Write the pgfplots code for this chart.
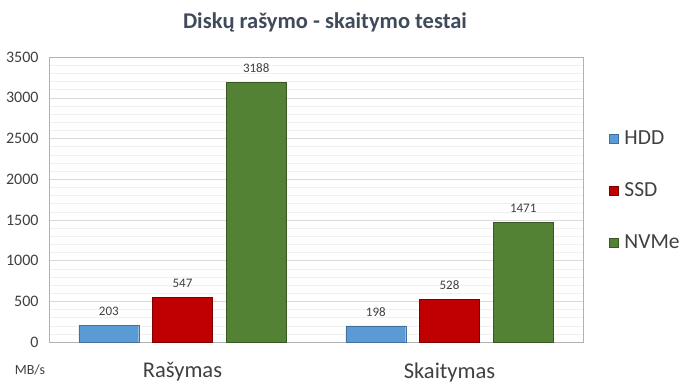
\documentclass[border=0pt]{standalone}
\usepackage{pgfplots}
\pgfplotsset{compat=1.18}
\usepackage{fontspec}
\setmainfont{Carlito}
\definecolor{hdd}{HTML}{5B9BD5}
\definecolor{hddb}{HTML}{41719C}
\definecolor{ssd}{HTML}{C00000}
\definecolor{ssdb}{HTML}{7F0000}
\definecolor{nvme}{HTML}{548235}
\definecolor{nvmeb}{HTML}{385723}
\definecolor{txt}{HTML}{404040}
\definecolor{ttl}{HTML}{3F4A5A}
\begin{document}
\begin{tikzpicture}[x=1pt,y=1pt]
\path (0,0) rectangle (700,385);
\node[font=\bfseries\fontsize{22.5}{24}\selectfont, text=ttl] at (325,363) {Diskų rašymo - skaitymo testai};
\node[font=\fontsize{14}{16}\selectfont, text=txt] at (30,15) {MB/s};
\begin{axis}[
  at={(49pt,43pt)}, anchor=south west,
  scale only axis, width=534pt, height=285pt,
  xmin=-0.5, xmax=1.5, ymin=0, ymax=3500,
  xtick={0,1}, xticklabels={Rašymas,Skaitymas},
  ytick={0,500,...,3500},
  minor ytick={100,200,...,3400},
  ymajorgrids, yminorgrids,
  major grid style={draw=black!15},
  minor grid style={draw=black!6},
  axis line style={draw=black!30},
  major tick length=0pt, minor tick length=0pt,
  xticklabel style={font=\fontsize{22.5}{24}\selectfont, text=txt, yshift=-17pt},
  yticklabel style={font=\fontsize{16}{18}\selectfont, text=txt, xshift=-7pt},
  /pgf/number format/assume math mode=true,
  /pgf/number format/1000 sep={},
  yticklabel={\pgfmathprintnumber[fixed,1000 sep={}]{\tick}},
  ybar, bar width=0.224,
  nodes near coords,
  every node near coord/.append style={font=\fontsize{13}{15}\selectfont, text=txt, yshift=6pt,
    /pgf/number format/1000 sep={}},
  legend style={draw=none, fill=none, at={(1.043,0.755)}, anchor=north west,
    font=\fontsize{21.5}{24}\selectfont, text=txt, row sep=32.5pt},
  legend cell align=left,
  legend image code/.code={\fill[#1] (0pt,-4.5pt) rectangle (9pt,4.5pt);},
]
\addplot[fill=hdd, draw=hddb, line width=0.3pt, bar shift=-0.276] coordinates {(0,203) (1,198)};
\addplot[fill=ssd, draw=ssdb, line width=0.3pt, bar shift=0] coordinates {(0,547) (1,528)};
\addplot[fill=nvme, draw=nvmeb, line width=0.3pt, bar shift=0.276] coordinates {(0,3188) (1,1471)};
\legend{\hspace{4pt}HDD,\hspace{4pt}SSD,\hspace{4pt}NVMe}
\end{axis}
\end{tikzpicture}
\end{document}
